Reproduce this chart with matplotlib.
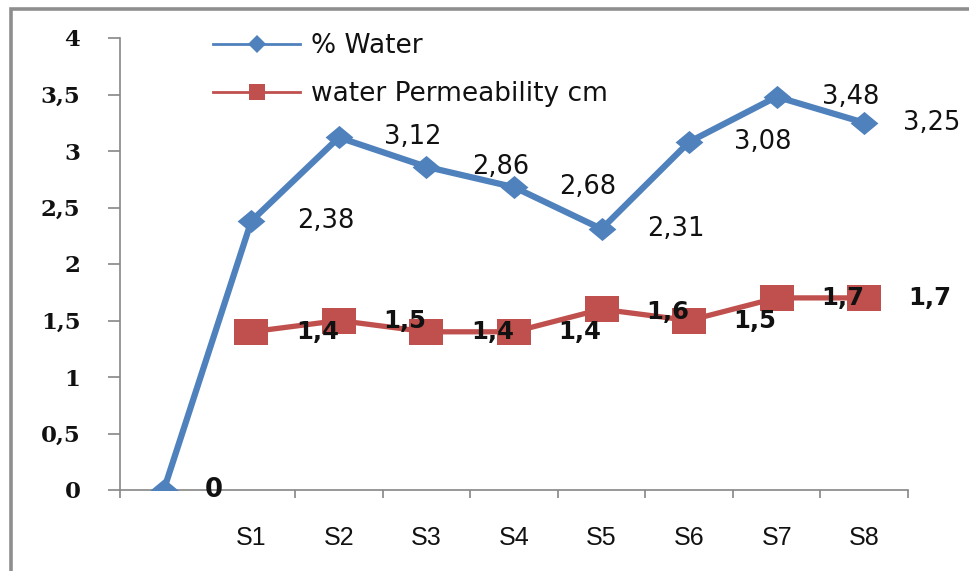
import numpy as np
import matplotlib
matplotlib.use('Agg')
from matplotlib import pyplot as plt
from matplotlib.lines import Line2D
from matplotlib.patches import Rectangle

# chart values
categories = ['', 'S1', 'S2', 'S3', 'S4', 'S5', 'S6', 'S7', 'S8']
water = [0, 2.38, 3.12, 2.86, 2.68, 2.31, 3.08, 3.48, 3.25]
permeability = [np.nan, 1.4, 1.5, 1.4, 1.4, 1.6, 1.5, 1.7, 1.7]
yticks = [0, 0.5, 1, 1.5, 2, 2.5, 3, 3.5, 4]

blue = '#4F81BD'
red = '#C0504D'
axis_gray = '#868686'

W, H = 969, 571
fig = plt.figure(figsize=(W / 100, H / 100), dpi=100)
ax = fig.add_axes([120 / W, 1 - 490 / H, (908 - 120) / W, (490 - 38) / H])

x = np.arange(len(categories))

# markers are a bit wider than tall in the original
diamond = [(0, 1), (1.2, 0), (0, -1), (-1.2, 0), (0, 1)]
rect = [(-1.3, -1), (1.3, -1), (1.3, 1), (-1.3, 1), (-1.3, -1)]

ax.plot(x, water, color=blue, lw=4.5, marker=diamond, ms=20,
        markeredgewidth=0, zorder=3)
ax.plot(x, permeability, color=red, lw=3.8, marker=rect, ms=24,
        markeredgewidth=0, zorder=3)

def fmt(v):
    return ('%g' % v).replace('.', ',')

# data labels, sitting to the right of each point
for i, v in enumerate(water):
    dx = 67 if i == len(water) - 1 else 74
    dx = 50 if i == 0 else dx
    ax.annotate(fmt(v), (x[i], v), xytext=(dx, 0), textcoords='offset pixels',
                ha='center', va='center', fontsize=18.5, color='#111111',
                fontweight='bold' if i == 0 else 'normal', zorder=5,
                annotation_clip=False)
for i, v in enumerate(permeability):
    if np.isnan(v):
        continue
    dy = -3 if i == 5 else 0
    ax.annotate(fmt(v), (x[i], v), xytext=(66, dy), textcoords='offset pixels',
                ha='center', va='center', fontsize=17.5, color='#111111',
                fontweight='bold', zorder=5, annotation_clip=False)

ax.set_xlim(-0.5, len(categories) - 0.5)
ax.set_ylim(0, 4)

for s in ['top', 'right']:
    ax.spines[s].set_visible(False)
for s in ['left', 'bottom']:
    ax.spines[s].set_color(axis_gray)
    ax.spines[s].set_linewidth(1.2)

ax.set_yticks(yticks)
ax.set_yticklabels([fmt(t) for t in yticks], fontfamily='DejaVu Serif',
                   fontweight='bold', fontsize=16.5, color='#111111')
ax.tick_params(axis='y', direction='out', length=8.5, width=1.2,
               color=axis_gray, pad=20)

ax.set_xticks(x)
ax.set_xticklabels(categories, fontfamily='Liberation Sans', fontsize=18,
                   color='#111111')
ax.tick_params(axis='x', which='major', length=0, pad=26)
bounds = [-0.5] + list(np.arange(1.5, len(categories), 1.0))
ax.set_xticks(bounds, minor=True)
ax.tick_params(axis='x', which='minor', direction='out', length=6, width=1.2,
               color=axis_gray)

# legend with thin lines like the original
handles = [
    Line2D([], [], color=blue, lw=2, marker='D', ms=9, markeredgewidth=0),
    Line2D([], [], color=red, lw=2, marker='s', ms=12, markeredgewidth=0),
]
leg = fig.legend(handles, ['% Water', 'water Permeability cm'],
                 loc='upper left', bbox_to_anchor=(213 / W, 1 - 33 / H),
                 frameon=False, fontsize=19, handlelength=3.3,
                 handletextpad=0.4, labelspacing=0.85, borderpad=0,
                 borderaxespad=0)
for t in leg.get_texts():
    t.set_color('#111111')

# gray frame around the chart, cut off at right and bottom
fig.patches.append(Rectangle((11 / W, -0.2), 1.5, 1.2 - 8.5 / H,
                             transform=fig.transFigure, fill=False,
                             edgecolor='#8e8e8e', lw=2.6))

fig.savefig('out.png', dpi=100)
